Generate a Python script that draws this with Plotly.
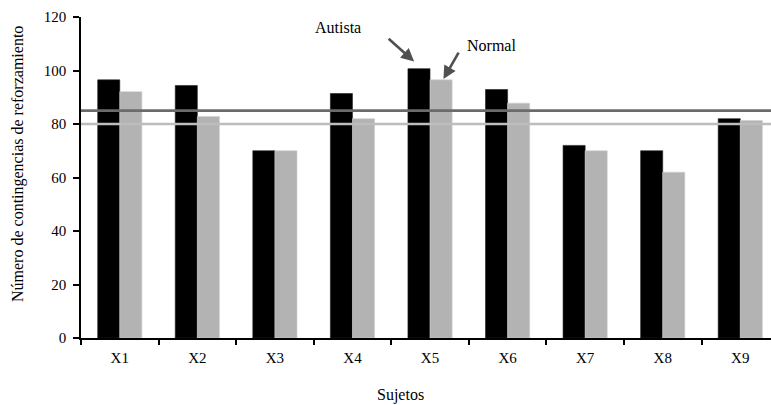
import plotly.graph_objects as go

categories = ["X1", "X2", "X3", "X4", "X5", "X6", "X7", "X8", "X9"]
autista = [96.5, 94.4, 70, 91.4, 100.7, 92.9, 72, 70, 82]
normal = [92.1, 82.8, 70, 82, 96.5, 87.8, 70, 62, 81.3]
ref_lines = [85, 80]
ref_colors = ["#6b6b6b", "#bdbdbd"]
y_ticks = [0, 20, 40, 60, 80, 100, 120]

FONT = "Liberation Serif"

fig = go.Figure()
fig.add_trace(go.Bar(x=categories, y=autista, name="Autista",
                     marker=dict(color="#000000", line=dict(color="#222222", width=0.6))))
fig.add_trace(go.Bar(x=categories, y=normal, name="Normal",
                     marker=dict(color="#b3b3b3", line=dict(color="#d0d0d0", width=0.6))))

for v, c in zip(ref_lines, ref_colors):
    fig.add_shape(type="line", xref="paper", x0=0, x1=1, yref="y", y0=v, y1=v,
                  line=dict(color=c, width=2.6), layer="above")

fig.update_layout(
    width=771, height=405,
    margin=dict(l=81, r=0, t=17, b=67),
    plot_bgcolor="white", paper_bgcolor="white",
    showlegend=False,
    barmode="group", bargap=0.43, bargroupgap=0,
    font=dict(family=FONT, size=14, color="black"),
    xaxis=dict(range=[-0.5, 8.396], showline=True, linecolor="black", linewidth=1.5,
               ticks="outside", ticklen=5, tickcolor="black", tickwidth=1.5,
               tickson="boundaries", showgrid=False, zeroline=False, ticklabelstandoff=5,
               tickfont=dict(family=FONT, size=15)),
    yaxis=dict(range=[0, 120], tickvals=y_ticks, showline=True, linecolor="black",
               linewidth=1.5, ticks="outside", ticklen=6, tickcolor="black", tickwidth=1.5,
               showgrid=False, zeroline=False, ticklabelstandoff=4,
               tickfont=dict(family=FONT, size=15)),
)

fig.add_annotation(text="Sujetos", xref="paper", yref="paper",
                   x=(400 - 81) / 690, y=-(395 - 338) / 321, xanchor="center", yanchor="middle",
                   showarrow=False, font=dict(family=FONT, size=16))
fig.add_annotation(text="Número de contingencias de reforzamiento", xref="paper", yref="paper",
                   x=-(81 - 18) / 690, y=(338 - 164) / 321, xanchor="center", yanchor="middle",
                   textangle=-90, showarrow=False, font=dict(family=FONT, size=16))

fig.add_annotation(text="Autista", x=2.816, y=116.1, xref="x", yref="y", showarrow=False,
                   font=dict(family=FONT, size=16))
fig.add_annotation(text="Normal", x=4.787, y=109.4, xref="x", yref="y", showarrow=False,
                   font=dict(family=FONT, size=16))
fig.add_annotation(text="", x=3.795, y=103.4, xref="x", yref="y", ax=-27, ay=-24,
                   showarrow=True, arrowhead=2, arrowsize=1, arrowwidth=2.6, arrowcolor="#505050")
fig.add_annotation(text="", x=4.173, y=96.8, xref="x", yref="y", ax=16, ay=-28,
                   showarrow=True, arrowhead=2, arrowsize=1, arrowwidth=2.6, arrowcolor="#505050")

fig.write_html("out.html", config={"displayModeBar": False},
               post_script="document.body.style.margin='0';document.body.style.overflow='hidden';")
